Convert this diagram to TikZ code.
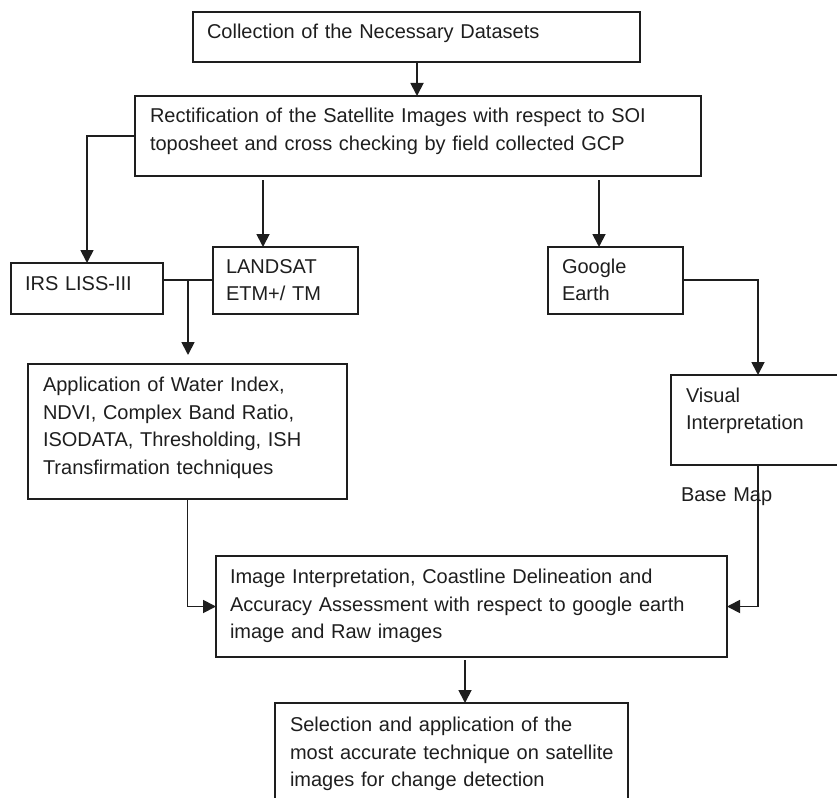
\documentclass[tikz,border=0pt]{standalone}
\usepackage{fontspec}
\setmainfont{Liberation Sans}
\usetikzlibrary{arrows.meta}
\definecolor{ink}{HTML}{1E1E1E}
\begin{document}
\begin{tikzpicture}[x=1pt,y=-1pt,
  box/.style={draw=ink, line width=1.8pt, inner sep=0pt, outer sep=0pt, rectangle},
  txt/.style={anchor=base west, inner sep=0pt, outer sep=0pt, text width=520pt, align=left, font=\fontsize{20}{27.5}\selectfont, text=ink},
  conn/.style={draw=ink, line width=1.8pt},
  arr/.style={conn, -{Triangle[length=13pt,width=13pt]}}]
\useasboundingbox (0,0) rectangle (837,797);
\clip (0,0) rectangle (837,797);

% boxes
\node[box, minimum width=447pt, minimum height=50pt]  (c1)   at (416.5,37) {};
\node[box, minimum width=566pt, minimum height=80pt]  (c2)   at (418,136) {};
\node[box, minimum width=152pt, minimum height=51pt]  (irs)  at (87,288.5) {};
\node[box, minimum width=145pt, minimum height=67pt]  (land) at (285.5,280.5) {};
\node[box, minimum width=135pt, minimum height=67pt]  (goog) at (615.5,280.5) {};
\node[box, minimum width=319pt, minimum height=135pt] (app)  at (187.5,431.5) {};
\node[box, minimum width=199pt, minimum height=90pt]  (vis)  at (770.5,420) {};
\node[box, minimum width=511pt, minimum height=101pt] (img)  at (471.5,606.5) {};
\node[box, minimum width=353pt, minimum height=127pt] (sel)  at (451.5,766.5) {};

% texts
\node[txt] (c1t)   at (207,39)    {Collection of the Necessary Datasets};
\node[txt] (c2t)   at (150,122.7) {Rectification of the Satellite Images with respect to SOI\\toposheet and cross checking by field collected GCP};
\node[txt] (irst)  at (25,290.7)  {IRS LISS-III};
\node[txt] (landt) at (226,273.3) {LANDSAT\\ETM+/ TM};
\node[txt] (googt) at (562,273.3) {Google\\Earth};
\node[txt] (appt)  at (43,391.7)  {Application of Water Index,\\NDVI, Complex Band Ratio,\\ISODATA, Thresholding, ISH\\Transfirmation techniques};
\node[txt] (vist)  at (686,402.3) {Visual\\Interpretation};
\node[txt] (imgt)  at (230,583.7) {Image Interpretation, Coastline Delineation and\\Accuracy Assessment with respect to google earth\\image and Raw images};
\node[txt] (selt)  at (290,731.7) {Selection and application of the\\most accurate technique on satellite\\images for change detection};

% connector points
\coordinate (s1) at (263,180);
\coordinate (s2) at (599,180);
\coordinate (j1) at (188,280);
\coordinate (a1) at (188,355);
\coordinate (g1) at (758,280);
\coordinate (v1) at (758,465);
\coordinate (m1) at (758,606.5);
\coordinate (i1) at (465,660);

% connectors
\draw[arr] (c1.south -| 417,0) -- (c2.north -| 417,0);
\draw[arr] (c2.west) -| (irs.north);
\draw[arr] (s1) -- (land.north -| s1);
\draw[arr] (s2) -- (goog.north -| s2);
\draw[conn] (irs.east |- j1) -- (land.west |- j1);
\draw[arr] (j1) -- (a1);
\draw[arr] (app.south) |- (img.west);
\draw[arr] (goog.east |- g1) -- (g1) -- (vis.north -| g1);
\draw[arr] (v1) -- (m1) -- (img.east |- m1);
\draw[arr] (i1) -- (sel.north -| i1);

\node[txt] (basemap) at (681,501.3) {Base Map};
\end{tikzpicture}
\end{document}
